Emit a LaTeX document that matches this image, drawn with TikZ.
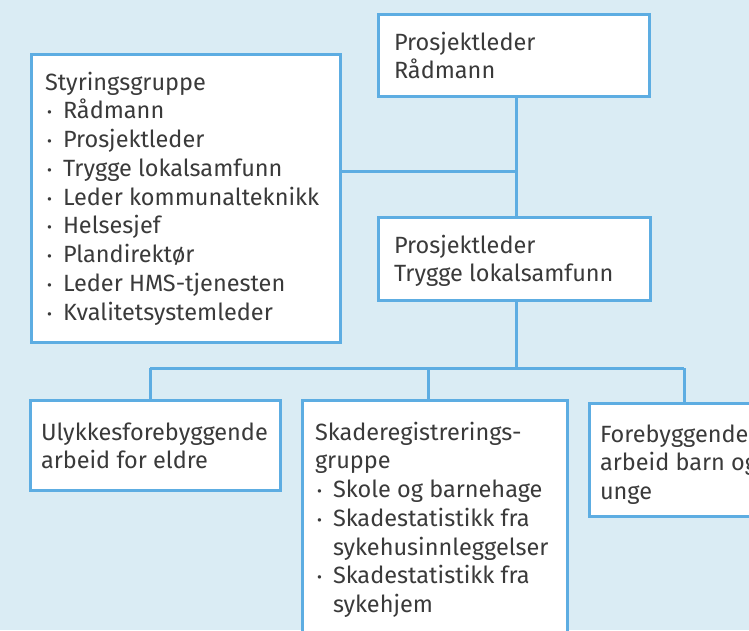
\documentclass[tikz,border=0pt]{standalone}
\usepackage{fontspec}
\setmainfont{Fira Sans}
\definecolor{bgblue}{RGB}{218,236,244}
\definecolor{lineblue}{RGB}{93,173,226}
\definecolor{txtgray}{RGB}{58,58,58}
\newcommand{\bul}{\makebox[18pt][l]{\hspace{2pt}\raisebox{1pt}{\fontsize{15}{15}\selectfont •}}}
\newcommand{\ind}{\hspace{18pt}}
\newcommand{\fl}{\rule{0pt}{22pt}}
\begin{document}
\begin{tikzpicture}[x=1pt,y=1pt,
  box/.style={draw=lineblue, line width=3pt, fill=white, rectangle, anchor=north west, inner sep=0pt, outer sep=0pt},
  txt/.style={anchor=north west, inner sep=0pt, outer sep=0pt, align=left, text=txtgray,
     font=\fontsize{23.5}{28.75}\selectfont},
  conn/.style={draw=lineblue, line width=3pt}]
\useasboundingbox (0,0) rectangle (749,-630);
\fill[bgblue] (0,0) rectangle (749,-630);
\clip (0,0) rectangle (749,-630);
% boxes
\node[box, minimum width=271pt, minimum height=82pt] (A) at (378,-14) {};
\node[box, minimum width=309pt, minimum height=288pt] (B) at (31,-54) {};
\node[box, minimum width=272pt, minimum height=83pt] (C) at (378,-217) {};
\node[box, minimum width=250pt, minimum height=90pt] (D) at (30,-400) {};
\node[box, minimum width=265pt, minimum height=250pt] (E) at (302,-400) {};
\node[box, minimum width=180pt, minimum height=113pt] (F) at (589,-403) {};
% connectors
\coordinate (j1) at (516,-171);
\coordinate (bus) at (516,-368);
\coordinate (bd) at (150,-368);
\coordinate (be) at (428,-368);
\coordinate (bf) at (684,-368);
\draw[conn] (A.south -| j1) -- (C.north -| j1);
\draw[conn] (B.east |- j1) -- (j1);
\draw[conn] (C.south -| bus) -- (bus);
\draw[conn] (bd) -- (bf);
\draw[conn] (bd) -- (bd |- D.north);
\draw[conn] (be) -- (be |- E.north);
\draw[conn] (bf) -- (bf |- F.north);
% texts
\node[txt] (tA) at (394,-28) {\fl Prosjektleder\\Rådmann};
\node[txt] (tB) at (45,-68) {\fl Styringsgruppe\\\bul Rådmann\\\bul Prosjektleder\\\bul Trygge lokalsamfunn\\\bul Leder kommunalteknikk\\\bul Helsesjef\\\bul Plandirektør\\\bul Leder HMS-tjenesten\\\bul Kvalitetsystemleder};
\node[txt] (tC) at (394,-231) {\fl Prosjektleder\\Trygge lokalsamfunn};
\node[txt] (tD) at (41,-418) {\fl Ulykkesforebyggende\\arbeid for eldre};
\node[txt] (tE) at (315,-418) {\fl Skaderegistrerings-\\gruppe\\\bul Skole og barnehage\\\bul Skadestatistikk fra\\\ind sykehusinnleggelser\\\bul Skadestatistikk fra\\\ind sykehjem};
\node[txt] (tF) at (600,-420) {\fl Forebyggende\\arbeid barn og\\unge};
\end{tikzpicture}
\end{document}
